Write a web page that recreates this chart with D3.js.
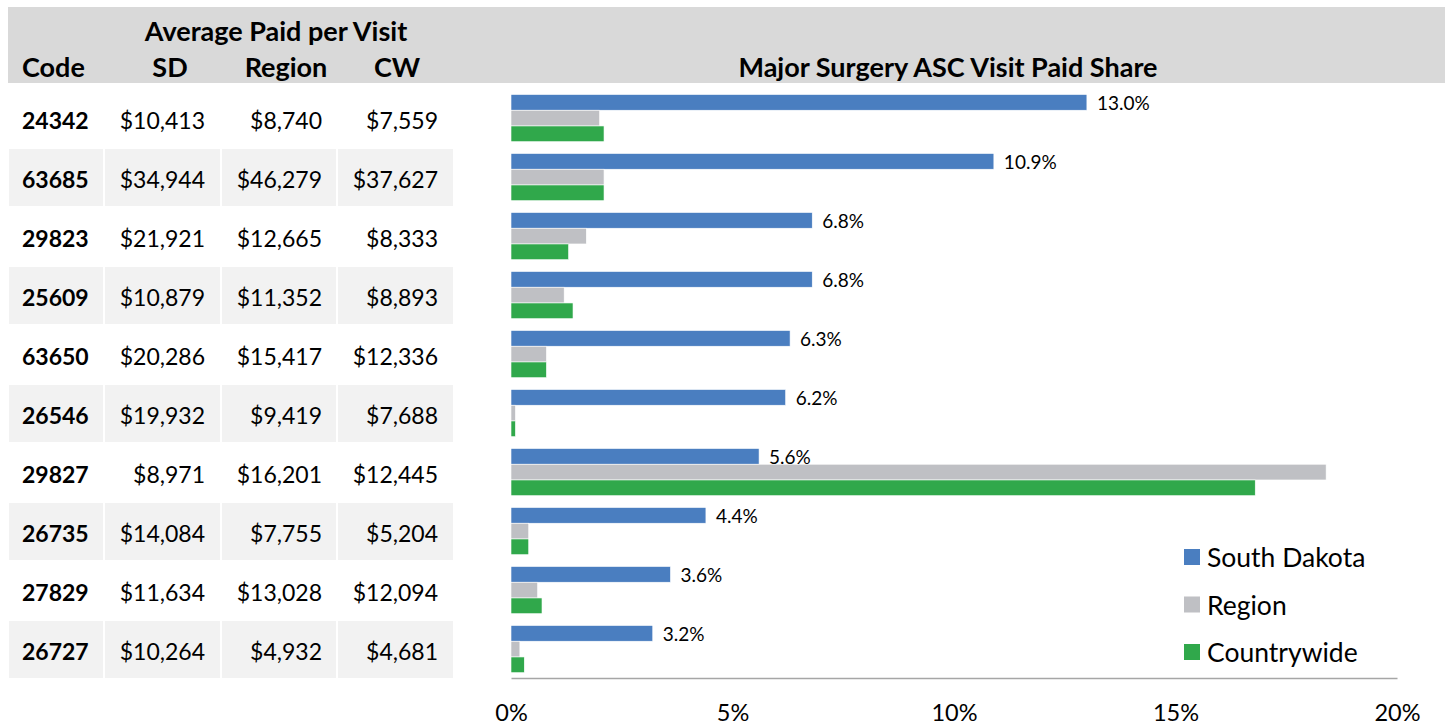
<!DOCTYPE html>
<html>
<head>
<meta charset="utf-8">
<script src="https://cdn.jsdelivr.net/npm/d3@7"></script>
<style>
  html, body { margin: 0; padding: 0; background: #ffffff; }
  svg { display: block; font-family: Lato, "Open Sans", sans-serif; }
</style>
</head>
<body>
<svg id="chart" width="1450" height="727"></svg>
<script>
// Procedure codes (rows)
const codes = ["24342", "63685", "29823", "25609", "63650", "26546", "29827", "26735", "27829", "26727"];

// Average paid per visit
const paidSD     = [10413, 34944, 21921, 10879, 20286, 19932, 8971, 14084, 11634, 10264];
const paidRegion = [8740, 46279, 12665, 11352, 15417, 9419, 16201, 7755, 13028, 4932];
const paidCW     = [7559, 37627, 8333, 8893, 12336, 7688, 12445, 5204, 12094, 4681];

// Major surgery ASC visit paid share (%)
const shareSD      = [13.0, 10.9, 6.8, 6.8, 6.3, 6.2, 5.6, 4.4, 3.6, 3.2];
const shareRegion  = [2.0, 2.1, 1.7, 1.2, 0.8, 0.1, 18.4, 0.4, 0.6, 0.2];
const shareCountry = [2.1, 2.1, 1.3, 1.4, 0.8, 0.1, 16.8, 0.4, 0.7, 0.3];

const seriesNames = ["South Dakota", "Region", "Countrywide"];
const tableHeaders = ["Code", "SD", "Region", "CW"];
const xTicks = [0, 5, 10, 15, 20];

const colors = { "South Dakota": "#4a7ec0", "Region": "#bfc0c4", "Countrywide": "#30a84b" };

const svg = d3.select("#chart");

// Header band
svg.append("rect")
  .attr("x", 8).attr("y", 7).attr("width", 1437).attr("height", 76)
  .attr("fill", "#d9d9d9");

// Row scale shared by table and bars
const y = d3.scaleBand().domain(codes).range([90, 680]);

// ---------- Table ----------
const cols = [
  { key: "code", x0: 9,   x1: 103, anchor: "start", tx: 22,  head: 22 },
  { key: "sd",   x0: 105, x1: 220, anchor: "end",   tx: 205, head: 170 },
  { key: "reg",  x0: 222, x1: 336, anchor: "end",   tx: 322, head: 286 },
  { key: "cw",   x0: 338, x1: 453, anchor: "end",   tx: 438, head: 397 }
];
const money = v => "$" + d3.format(",")(v);

svg.append("text")
  .attr("x", 276).attr("y", 30)
  .attr("text-anchor", "middle").attr("dominant-baseline", "central")
  .attr("font-size", 27).attr("font-weight", 700).attr("fill", "#000")
  .text("Average Paid per Visit");

cols.forEach((c, i) => {
  svg.append("text")
    .attr("x", c.head).attr("y", 66)
    .attr("text-anchor", i === 0 ? "start" : "middle")
    .attr("dominant-baseline", "central")
    .attr("font-size", 27).attr("font-weight", 700).attr("fill", "#000")
    .text(tableHeaders[i]);
});

const rows = codes.map((code, i) => ({
  code, i,
  vals: [code, money(paidSD[i]), money(paidRegion[i]), money(paidCW[i])]
}));

const rowG = svg.append("g").selectAll("g").data(rows).join("g")
  .attr("transform", d => `translate(0,${y(d.code)})`);

cols.forEach((c, ci) => {
  rowG.filter(d => d.i % 2 === 1).append("rect")
    .attr("x", c.x0).attr("y", 0)
    .attr("width", c.x1 - c.x0).attr("height", y.bandwidth() - 2)
    .attr("fill", "#f2f2f2");
  rowG.append("text")
    .attr("x", c.tx).attr("y", (y.bandwidth() - 2) / 2 + 1)
    .attr("text-anchor", c.anchor).attr("dominant-baseline", "central")
    .attr("font-size", 23).attr("font-weight", ci === 0 ? 700 : 400)
    .attr("fill", "#000")
    .text(d => d.vals[ci]);
});

// ---------- Bar chart ----------
svg.append("text")
  .attr("x", 948).attr("y", 66)
  .attr("text-anchor", "middle").attr("dominant-baseline", "central")
  .attr("font-size", 27).attr("font-weight", 700).attr("fill", "#000")
  .text("Major Surgery ASC Visit Paid Share");

const x = d3.scaleLinear().domain([0, 20]).range([511, 1397]);
const sub = d3.scaleBand().domain(seriesNames).range([4.5, 51.7]);

const barData = codes.map((code, i) => ({
  code,
  values: [
    { s: "South Dakota", v: shareSD[i] },
    { s: "Region", v: shareRegion[i] },
    { s: "Countrywide", v: shareCountry[i] }
  ]
}));

const groups = svg.append("g").selectAll("g").data(barData).join("g")
  .attr("transform", d => `translate(0,${y(d.code)})`);

groups.selectAll("rect").data(d => d.values).join("rect")
  .attr("x", x(0))
  .attr("y", d => sub(d.s))
  .attr("width", d => x(d.v) - x(0))
  .attr("height", sub.bandwidth())
  .attr("fill", d => colors[d.s])
  .attr("stroke", "#ffffff").attr("stroke-width", 0.6);

groups.append("text")
  .attr("x", d => x(d.values[0].v) + 10)
  .attr("y", sub("South Dakota") + sub.bandwidth() / 2)
  .attr("dominant-baseline", "central")
  .attr("font-size", 19).attr("fill", "#000")
  .text(d => d.values[0].v.toFixed(1) + "%");

// Axis
const axis = svg.append("g")
  .attr("transform", `translate(0,678)`)
  .call(d3.axisBottom(x).tickValues(xTicks).tickSize(0).tickPadding(26).tickFormat(d => d + "%"));
axis.select(".domain").attr("stroke", "#a6a6a6").attr("stroke-width", 1.6);
axis.selectAll("text")
  .attr("font-family", "Lato, sans-serif")
  .attr("font-size", 23.5).attr("fill", "#000");

// Legend
const legend = svg.append("g").selectAll("g").data(seriesNames).join("g")
  .attr("transform", (d, i) => `translate(1184,${557 + i * 47.5})`);
legend.append("rect")
  .attr("x", 0).attr("y", -8).attr("width", 16).attr("height", 16)
  .attr("fill", d => colors[d]);
legend.append("text")
  .attr("x", 23).attr("y", 0)
  .attr("dominant-baseline", "central")
  .attr("font-size", 26.5).attr("fill", "#000")
  .text(d => d);
</script>
</body>
</html>
